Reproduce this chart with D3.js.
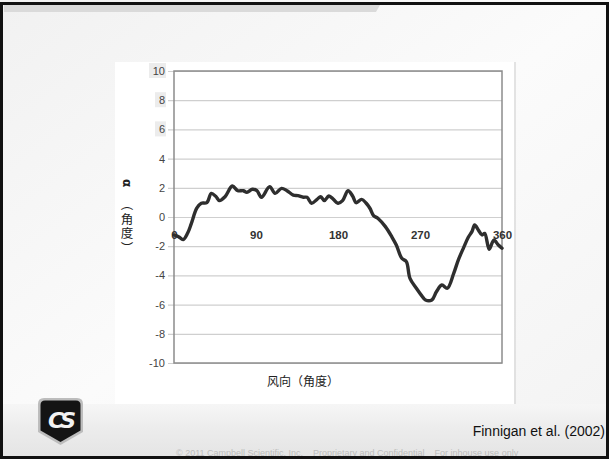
<!DOCTYPE html>
<html>
<head>
<meta charset="utf-8">
<script src="https://cdn.jsdelivr.net/npm/d3@7"></script>
<style>
  html, body { margin: 0; padding: 0; background: #fff; }
  svg { display: block; }
</style>
</head>
<body>
<script>
// wind direction (deg) and alpha (deg)
const directions = [0, 5, 10, 15, 19, 25, 30, 36, 41, 46, 50, 56, 64, 70, 76, 80, 86, 91, 96,
  105, 111, 118, 124, 131, 136, 142, 146, 151, 157, 161, 165, 170, 175, 180, 185, 191, 196,
  200, 206, 211, 215, 219, 224, 232, 239, 244, 250, 255, 259, 266, 272, 276, 283, 288, 294,
  300, 307, 312, 318, 323, 327, 330, 334, 338, 341, 346, 351, 356, 360];
const alpha = [-1.23, -1.35, -1.55, -1.1, -0.45, 0.6, 0.94, 0.98, 1.62, 1.4, 1.12, 1.39, 2.12,
  1.8, 1.8, 1.69, 1.9, 1.8, 1.35, 2.08, 1.62, 1.96, 1.8, 1.5, 1.46, 1.35, 1.35, 0.94, 1.21,
  1.39, 1.12, 1.44, 1.21, 0.94, 1.12, 1.8, 1.44, 0.98, 1.21, 0.94, 0.6, 0.1, -0.1, -0.66,
  -1.35, -1.92, -2.83, -3.06, -4.2, -4.88, -5.4, -5.68, -5.68, -5.12, -4.66, -4.88, -3.86,
  -2.95, -2.08, -1.39, -1.0, -0.55, -0.89, -1.23, -1.12, -2.21, -1.58, -1.92, -2.14];

const xTicks = [0, 90, 180, 270, 360];
const yTicks = [10, 8, 6, 4, 2, 0, -2, -4, -6, -8, -10];
const yShaded = [10, 8, 6];

const W = 609, H = 459;
const plot = { left: 174, right: 502, top: 71, bottom: 363 };

const svg = d3.select("body").append("svg")
  .attr("width", W)
  .attr("height", H);

const defs = svg.append("defs");
const bg = defs.append("linearGradient").attr("id", "bg").attr("x1", 0).attr("y1", 0).attr("x2", 1).attr("y2", 1);
bg.append("stop").attr("offset", "0%").attr("stop-color", "#f1f1f1");
bg.append("stop").attr("offset", "50%").attr("stop-color", "#fbfbfb");
bg.append("stop").attr("offset", "100%").attr("stop-color", "#f3f3f3");

const foot = defs.append("linearGradient").attr("id", "foot").attr("x1", 0).attr("y1", 0).attr("x2", 0).attr("y2", 1);
foot.append("stop").attr("offset", "0%").attr("stop-color", "#f6f6f6");
foot.append("stop").attr("offset", "45%").attr("stop-color", "#ececec");
foot.append("stop").attr("offset", "100%").attr("stop-color", "#e4e4e4");

// slide background
svg.append("rect").attr("width", W).attr("height", H).attr("fill", "url(#bg)");
svg.append("rect").attr("x", 0).attr("y", 404).attr("width", W).attr("height", H - 404).attr("fill", "url(#foot)");

// top grey strip
svg.append("path")
  .attr("d", "M4,5 L380,5 L376,12 L4,12 Z")
  .attr("fill", "#dadada");

// figure box
svg.append("rect")
  .attr("x", 115).attr("y", 62)
  .attr("width", 399).attr("height", 342)
  .attr("fill", "#fff");
svg.append("line")
  .attr("x1", 515).attr("x2", 515).attr("y1", 62).attr("y2", 404)
  .attr("stroke", "#d4d4d4").attr("stroke-width", 1.2);

// scales
const x = d3.scaleLinear().domain([0, 360]).range([plot.left, plot.right]);
const y = d3.scaleLinear().domain([-10, 10]).range([plot.bottom, plot.top]);

// shaded label backgrounds (scan artefacts)
svg.selectAll("rect.shade")
  .data(yShaded)
  .join("rect")
    .attr("class", "shade")
    .attr("x", d => d === 10 ? 149 : 155)
    .attr("y", d => y(d) - 8)
    .attr("width", d => d === 10 ? 17 : 11)
    .attr("height", 15)
    .attr("fill", "#ececec");

// y axis with gridlines
svg.append("g")
  .attr("transform", `translate(${plot.left},0)`)
  .call(d3.axisLeft(y).tickValues(yTicks).tickFormat(d => String(d)).tickSize(6).tickPadding(4))
  .call(g => g.select(".domain").remove())
  .call(g => g.selectAll(".tick line")
    .attr("x2", plot.right - plot.left)
    .attr("x1", -6)
    .attr("stroke", "#cfcfcf")
    .attr("stroke-width", 1.2))
  .call(g => g.selectAll(".tick text")
    .attr("x", -9)
    .style("font-family", "Arial, 'Liberation Sans', sans-serif")
    .style("font-size", "11px")
    .attr("fill", "#444"));

// plot frame
svg.append("rect")
  .attr("x", plot.left).attr("y", plot.top)
  .attr("width", plot.right - plot.left).attr("height", plot.bottom - plot.top)
  .attr("fill", "none")
  .attr("stroke", "#8c8c8c")
  .attr("stroke-width", 1.5);

// x tick labels sit under the zero line
svg.append("g")
  .attr("transform", `translate(0,${y(0)})`)
  .call(d3.axisBottom(x).tickValues(xTicks).tickSize(0).tickPadding(14))
  .call(g => g.select(".domain").remove())
  .call(g => g.selectAll(".tick text")
    .style("font-family", "Arial, 'Liberation Sans', sans-serif")
    .style("font-size", "11.5px")
    .style("font-weight", "bold")
    .attr("fill", "#333"));

// the curve
const points = directions.map((d, i) => [d, alpha[i]]);
const line = d3.line()
  .x(d => x(d[0]))
  .y(d => y(d[1]))
  .curve(d3.curveCatmullRom.alpha(0.5));

svg.append("path")
  .datum(points)
  .attr("d", line)
  .attr("fill", "none")
  .attr("stroke", "#2e2e2e")
  .attr("stroke-width", 3.4)
  .attr("stroke-linejoin", "round")
  .attr("stroke-linecap", "round");

// axis titles
const cjk = "'Noto Sans CJK SC', 'Noto Sans', sans-serif";

svg.append("text")
  .attr("x", 303).attr("y", 386)
  .attr("text-anchor", "middle")
  .style("font-family", cjk)
  .style("font-size", "12px")
  .attr("fill", "#222")
  .text("风向（角度）");

// y title: alpha turned sideways, then vertical CJK text
svg.append("text")
  .attr("transform", "translate(127,183) rotate(90)")
  .attr("text-anchor", "middle")
  .attr("dominant-baseline", "central")
  .style("font-family", "'DejaVu Sans', sans-serif")
  .style("font-size", "12px")
  .style("font-weight", "bold")
  .attr("fill", "#222")
  .text("α");

svg.append("text")
  .attr("x", 127).attr("y", 198)
  .style("writing-mode", "vertical-rl")
  .style("font-family", cjk)
  .style("font-size", "12.5px")
  .style("letter-spacing", "2px")
  .attr("fill", "#222")
  .text("（角度）");

// citation
svg.append("text")
  .attr("x", 605).attr("y", 436)
  .attr("text-anchor", "end")
  .style("font-family", "Arial, 'Liberation Sans', sans-serif")
  .style("font-size", "14px")
  .attr("fill", "#111")
  .text("Finnigan et al. (2002)");

// footer
svg.append("text")
  .attr("x", 176).attr("y", 456)
  .style("font-family", "Arial, 'Liberation Sans', sans-serif")
  .style("font-size", "9px")
  .attr("fill", "#bdbdbd")
  .attr("xml:space", "preserve")
  .text("© 2011 Campbell Scientific, Inc.    Proprietary and Confidential    For inhouse use only");

// logo
const logo = svg.append("g").attr("transform", "translate(38,398)");
logo.append("path")
  .attr("d", "M6,0 L39,0 Q45,0 45,6 L45,34 L22.5,47 L0,34 L0,6 Q0,0 6,0 Z")
  .attr("fill", "#bdbdbd");
logo.append("path")
  .attr("d", "M7,2.5 L38,2.5 Q42.5,2.5 42.5,7 L42.5,32.5 L22.5,44 L2.5,32.5 L2.5,7 Q2.5,2.5 7,2.5 Z")
  .attr("fill", "#141414");
logo.append("text")
  .attr("x", 22.5).attr("y", 30)
  .attr("text-anchor", "middle")
  .style("font-family", "'DejaVu Sans', sans-serif")
  .style("font-size", "22px")
  .style("font-weight", "bold")
  .style("font-style", "italic")
  .attr("letter-spacing", "-3")
  .attr("fill", "#f2f2f2")
  .text("CS");

// slide frame
svg.append("rect")
  .attr("x", 1.5).attr("y", 3.5)
  .attr("width", W - 3).attr("height", H - 5)
  .attr("fill", "none")
  .attr("stroke", "#111")
  .attr("stroke-width", 3);
</script>
</body>
</html>
